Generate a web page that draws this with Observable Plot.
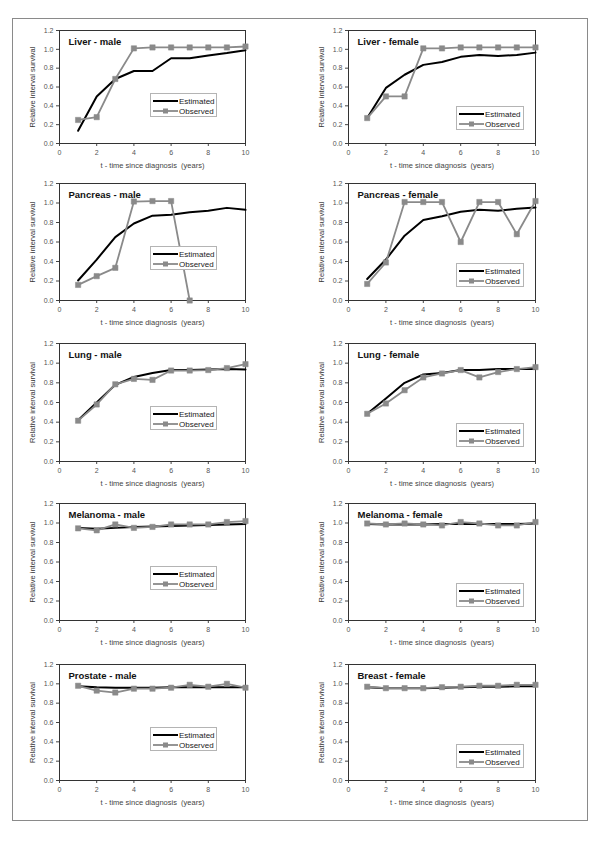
<!DOCTYPE html>
<html><head><meta charset="utf-8">
<script src="https://cdn.jsdelivr.net/npm/d3@7"></script>
<script src="https://cdn.jsdelivr.net/npm/@observablehq/plot@0.6"></script>
<style>
body{margin:0;background:#fff;font-family:"Liberation Sans",Arial,sans-serif;}
#page{position:relative;width:600px;height:849px;overflow:hidden;background:#fff;}
#border{position:absolute;left:12px;top:18px;width:576px;height:803px;border:1px solid #8a8a8a;box-sizing:border-box;}
.panel{position:absolute;}
.legend{position:absolute;border:1px solid #b4b4b4;background:#fff;font-size:8px;color:#222;box-sizing:border-box;}
.legend .row{position:absolute;left:2px;height:10px;display:flex;align-items:center;white-space:nowrap;}
.legend svg{margin-right:1px;}
</style></head><body><div id="page"><div id="border"></div></div>
<script>
// ---------- data ----------
const years = [1, 2, 3, 4, 5, 6, 7, 8, 9, 10];
const xTicks = [0, 2, 4, 6, 8, 10];
const yTicks = [0, 0.2, 0.4, 0.6, 0.8, 1.0, 1.2];
const seriesNames = ["Estimated", "Observed"];
const xLabel = "t - time since diagnosis  (years)";
const yLabel = "Relative interval survival";
const titles = ["Liver - male", "Liver - female", "Pancreas - male", "Pancreas - female",
  "Lung - male", "Lung - female", "Melanoma - male", "Melanoma - female", "Prostate - male", "Breast - female"];

const liverMaleEst = [0.135, 0.50, 0.685, 0.77, 0.77, 0.905, 0.905, 0.935, 0.96, 0.99];
const liverMaleObs = [0.25, 0.28, 0.685, 1.01, 1.02, 1.02, 1.02, 1.02, 1.02, 1.03];
const liverFemaleEst = [0.27, 0.59, 0.73, 0.835, 0.865, 0.92, 0.94, 0.93, 0.94, 0.965];
const liverFemaleObs = [0.27, 0.50, 0.50, 1.01, 1.01, 1.02, 1.02, 1.02, 1.02, 1.02];
const pancMaleEst = [0.205, 0.42, 0.65, 0.79, 0.87, 0.88, 0.905, 0.92, 0.95, 0.93];
const pancMaleObs = [0.16, 0.25, 0.335, 1.015, 1.02, 1.02, 0.0];
const pancFemaleEst = [0.22, 0.42, 0.665, 0.825, 0.865, 0.91, 0.93, 0.92, 0.94, 0.955];
const pancFemaleObs = [0.17, 0.39, 1.01, 1.01, 1.01, 0.60, 1.01, 1.01, 0.68, 1.02];
const lungMaleEst = [0.42, 0.60, 0.78, 0.86, 0.90, 0.93, 0.93, 0.935, 0.94, 0.935];
const lungMaleObs = [0.415, 0.58, 0.785, 0.84, 0.83, 0.925, 0.925, 0.93, 0.95, 0.99];
const lungFemaleEst = [0.485, 0.64, 0.80, 0.885, 0.90, 0.93, 0.93, 0.94, 0.94, 0.94];
const lungFemaleObs = [0.485, 0.59, 0.725, 0.855, 0.895, 0.93, 0.855, 0.91, 0.94, 0.96];
const melMaleEst = [0.95, 0.94, 0.95, 0.96, 0.965, 0.97, 0.975, 0.98, 0.985, 0.99];
const melMaleObs = [0.945, 0.925, 0.985, 0.95, 0.96, 0.985, 0.985, 0.985, 1.01, 1.02];
const melFemaleEst = [0.99, 0.985, 0.985, 0.985, 0.99, 0.99, 0.99, 0.99, 0.99, 0.995];
const melFemaleObs = [0.995, 0.985, 0.995, 0.985, 0.975, 1.01, 0.995, 0.975, 0.975, 1.01];
const prostMaleEst = [0.975, 0.965, 0.96, 0.96, 0.96, 0.965, 0.965, 0.965, 0.965, 0.965];
const prostMaleObs = [0.98, 0.93, 0.91, 0.95, 0.95, 0.96, 0.99, 0.97, 1.0, 0.96];
const breastFemaleEst = [0.965, 0.955, 0.955, 0.955, 0.96, 0.965, 0.97, 0.97, 0.975, 0.975];
const breastFemaleObs = [0.97, 0.955, 0.955, 0.955, 0.965, 0.97, 0.98, 0.98, 0.99, 0.99];

const estSeries = [liverMaleEst, liverFemaleEst, pancMaleEst, pancFemaleEst, lungMaleEst,
  lungFemaleEst, melMaleEst, melFemaleEst, prostMaleEst, breastFemaleEst];
const obsSeries = [liverMaleObs, liverFemaleObs, pancMaleObs, pancFemaleObs, lungMaleObs,
  lungFemaleObs, melMaleObs, melFemaleObs, prostMaleObs, breastFemaleObs];

// ---------- layout ----------
const colLeft = [59, 348], colWidth = [186, 187];
const rowTop = [30, 183, 343, 503, 664], rowBottom = [143, 300, 461, 620, 780];
const legPos = [{dx: 91, dy: 63, w: 67}, {dx: 108, dy: 80, w: 68}];
const estColor = "#000", obsColor = "#8a8a8a";
const mL = 44, mT = 6, mR = 6, mB = 32;

const page = document.getElementById("page");

function toRows(vals) { return vals.map((v, i) => ({t: years[i], v})); }

titles.forEach((title, i) => {
  const col = i % 2, row = Math.floor(i / 2);
  const fw = colWidth[col], fh = rowBottom[row] - rowTop[row];
  const est = toRows(estSeries[i]), obs = toRows(obsSeries[i]);
  const chart = Plot.plot({
    width: fw + mL + mR, height: fh + mT + mB,
    marginLeft: mL, marginTop: mT, marginRight: mR, marginBottom: mB,
    style: {fontFamily: "'Liberation Sans', Arial, sans-serif", fontSize: "7px", color: "#333", background: "transparent", overflow: "visible"},
    x: {domain: [0, 10]},
    y: {domain: [0, 1.2]},
    marks: [
      Plot.axisX({ticks: xTicks, tickSize: 3, tickPadding: 4, label: null, fill: "#555", stroke: "#444"}),
      Plot.axisY({ticks: yTicks, tickSize: 3, tickPadding: 3, tickFormat: d => d.toFixed(1), label: null, fill: "#555", stroke: "#444"}),
      Plot.frame({stroke: "#333", strokeWidth: 1}),
      Plot.line(est, {x: "t", y: "v", stroke: estColor, strokeWidth: 2}),
      Plot.line(obs, {x: "t", y: "v", stroke: obsColor, strokeWidth: 1.8}),
      Plot.dot(obs, {x: "t", y: "v", symbol: "square", r: 3, fill: obsColor, stroke: obsColor, strokeWidth: 0.5}),
      Plot.text([title], {frameAnchor: "top-left", textAnchor: "start", lineAnchor: "middle", dx: 9, dy: 11, fontWeight: "bold", fontSize: 9.5, fill: "#111"}),
      Plot.text([xLabel], {frameAnchor: "bottom", textAnchor: "middle", lineAnchor: "middle", dy: 22, fontSize: 7.5, fill: "#444"}),
      Plot.text([yLabel], {frameAnchor: "left", textAnchor: "middle", lineAnchor: "middle", rotate: -90, dx: -27, fontSize: 7.5, fill: "#333"})
    ]
  });
  const wrap = document.createElement("div");
  wrap.className = "panel";
  wrap.style.left = (colLeft[col] - mL) + "px";
  wrap.style.top = (rowTop[row] - mT) + "px";
  wrap.appendChild(chart);
  page.appendChild(wrap);

  // legend box
  const lp = legPos[col];
  const leg = document.createElement("div");
  leg.className = "legend";
  leg.style.left = (colLeft[col] + lp.dx) + "px";
  leg.style.top = (rowTop[row] + (row === 0 && col === 1 ? 76 : lp.dy)) + "px";
  leg.style.width = lp.w + "px";
  leg.style.height = "24px";
  seriesNames.forEach((name, k) => {
    const r = document.createElement("div");
    r.className = "row";
    r.style.top = (k === 0 ? 2 : 12) + "px";
    const isObs = k === 1;
    const c = isObs ? obsColor : estColor;
    r.innerHTML = `<svg width="25" height="10"><line x1="0" x2="25" y1="5" y2="5" stroke="${c}" stroke-width="${isObs ? 1.8 : 2}"/>` +
      (isObs ? `<rect x="10" y="2.5" width="5" height="5" fill="${c}"/>` : "") + `</svg><span>${name}</span>`;
    leg.appendChild(r);
  });
  page.appendChild(leg);
});
</script>
</body></html>
